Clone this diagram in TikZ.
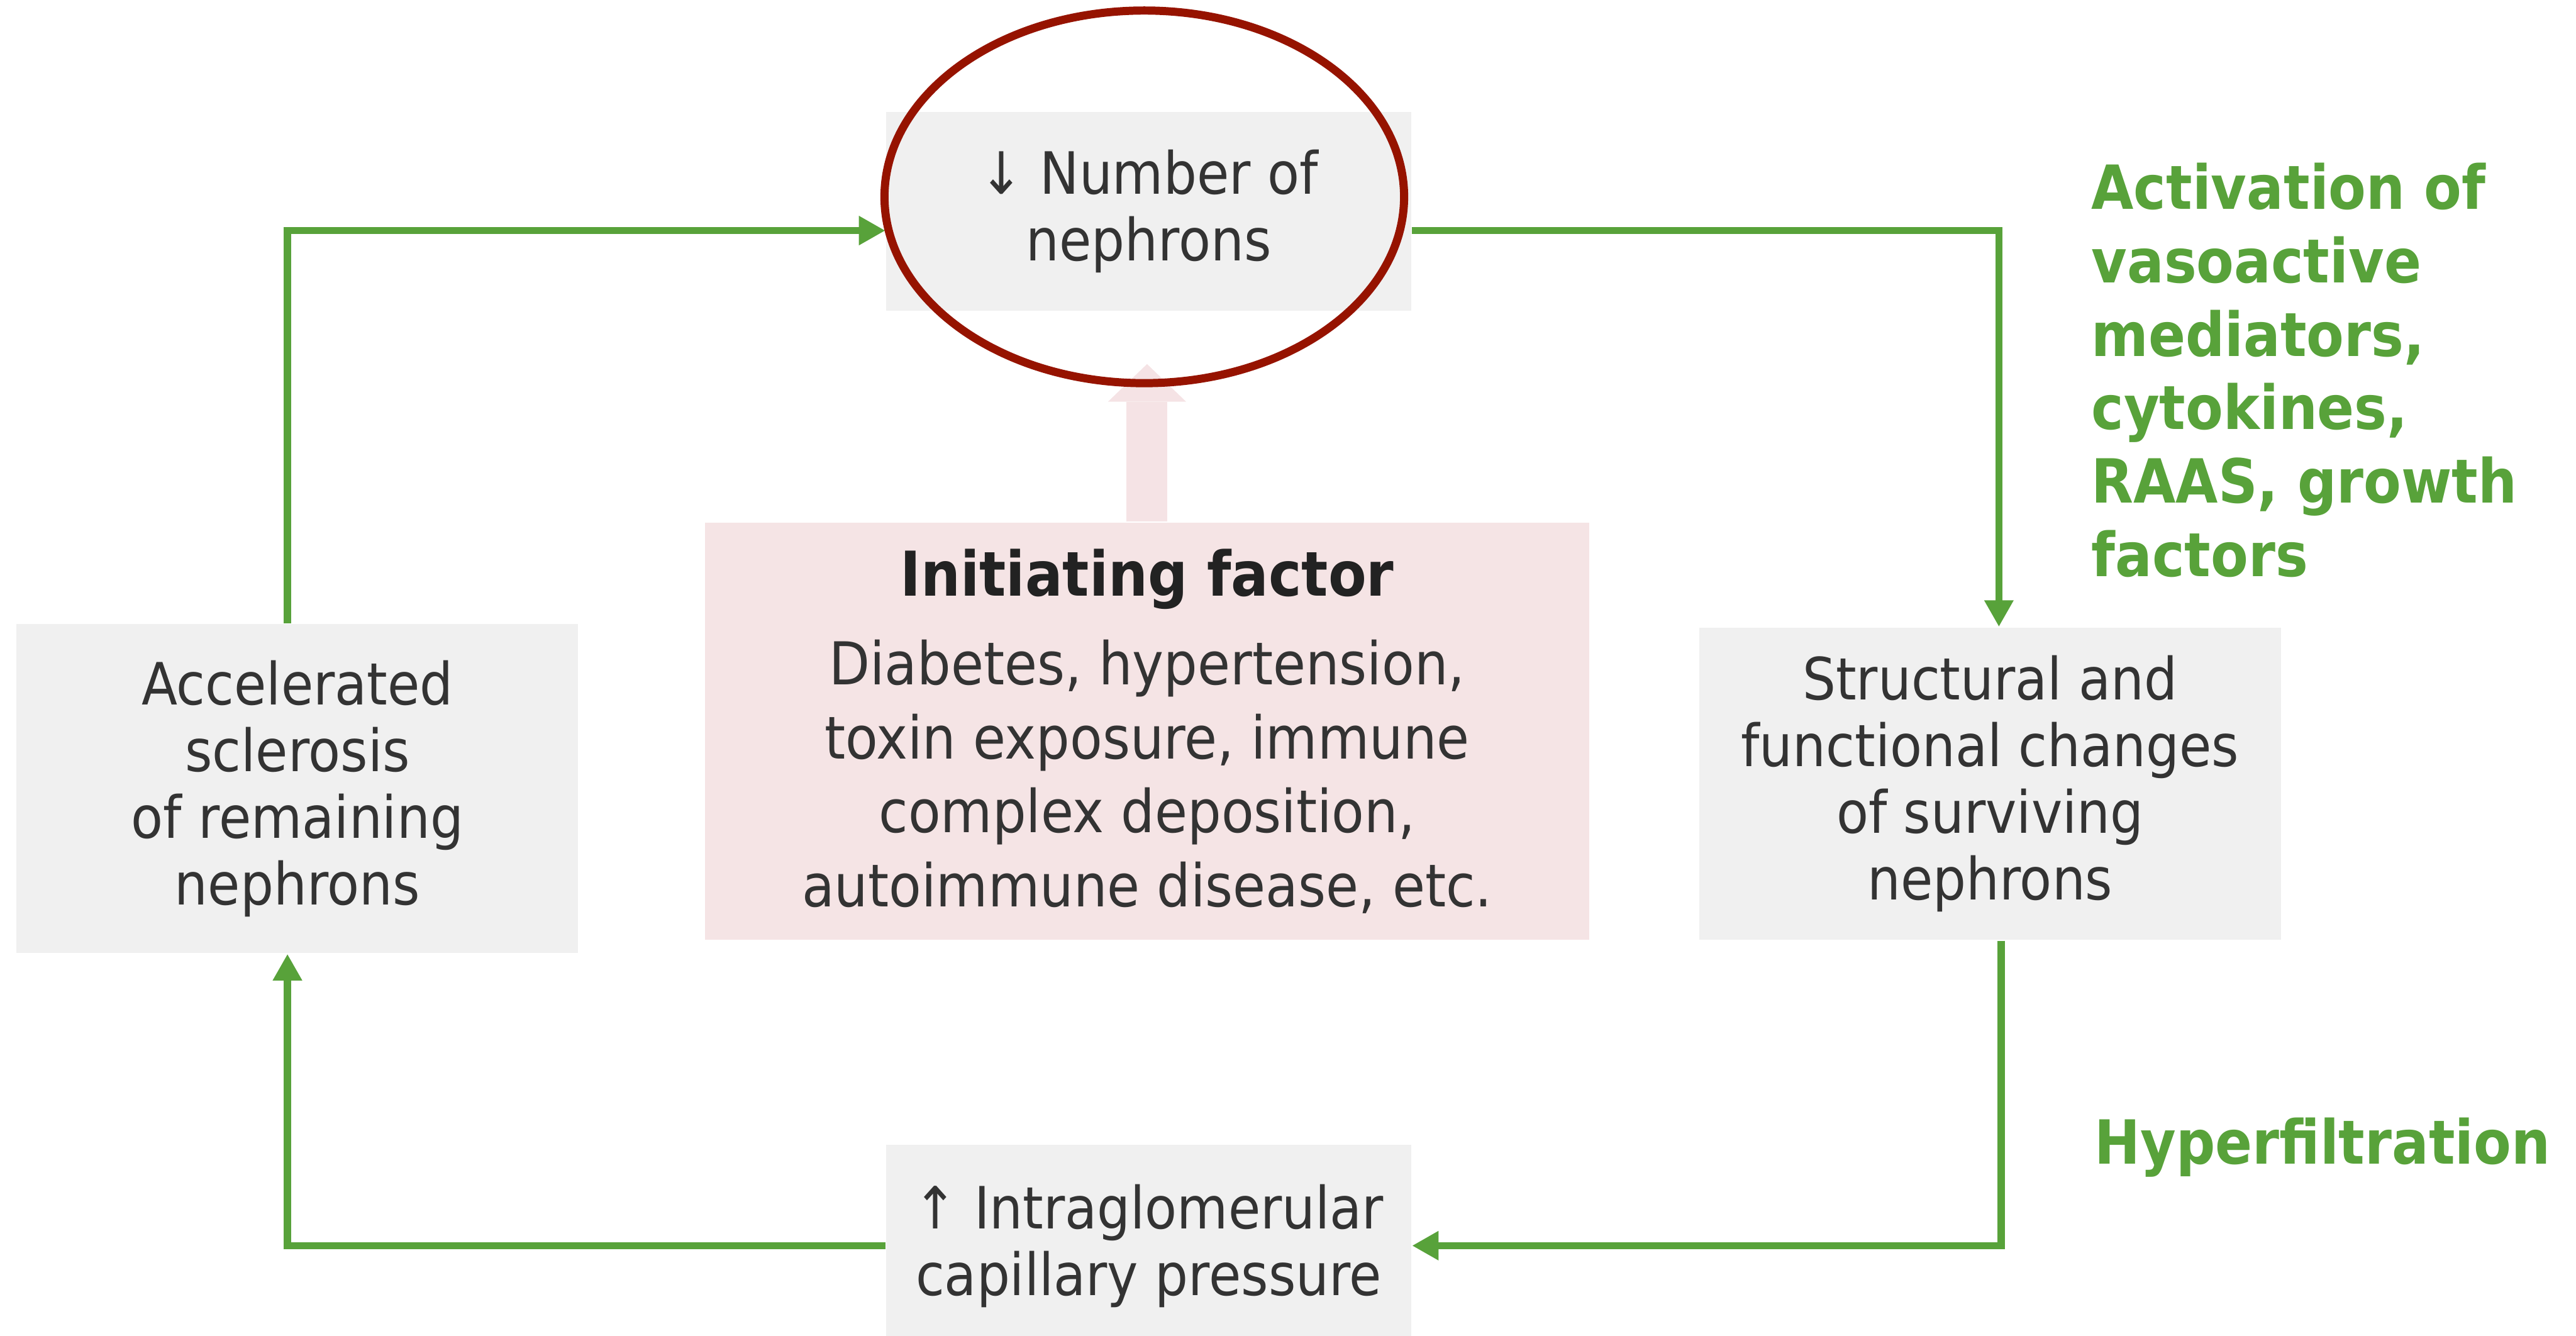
\documentclass[tikz,border=0pt]{standalone}
\usepackage{fontspec}
\setmainfont{DejaVu Sans}[FakeStretch=0.9]
\usetikzlibrary{arrows.meta,shapes.geometric}
\definecolor{LoopGreen}{HTML}{58A23A}
\definecolor{BoxGray}{HTML}{F0F0F0}
\definecolor{FactorPink}{HTML}{F5E4E5}
\definecolor{ArrowPink}{HTML}{F5E3E5}
\definecolor{RingRed}{HTML}{961300}
\definecolor{TextGray}{HTML}{333333}
\definecolor{TitleGray}{HTML}{222222}
\tikzset{
  stagebox/.style={fill=BoxGray,text=TextGray,inner sep=0pt,align=center,
    font=\fontsize{15}{17.2}\selectfont},
  factorbox/.style={fill=FactorPink,text=TextGray,inner sep=0pt,align=center,
    minimum width=8cm,minimum height=3.775cm,font=\fontsize{15.2}{19.06}\selectfont},
  loopline/.style={-{Triangle[length=2.4mm,width=2.5mm]},
    line width=1.85pt,draw=LoopGreen},
  riseline/.style={-{Triangle[length=3.4mm,width=7.05mm,line width=0pt]},
    line width=10.5pt,draw=ArrowPink},
  ringmark/.style={draw=RingRed,line width=2.1pt,ellipse,inner sep=0pt},
  notegreen/.style={text=LoopGreen,inner sep=0pt,align=left,
    font=\fontsize{15.65}{18.9}\selectfont\bfseries},
}

\begin{document}
\begin{tikzpicture}
  \useasboundingbox (0,0) rectangle (23.3,-12.08);

  % the four stages of the loop
  \node[stagebox,minimum width=4.75cm,minimum height=1.795cm] (nephrons) at (10.39,-1.9125) {↓ Number of\\nephrons};
  \node[stagebox,minimum width=5.265cm,minimum height=2.825cm] (changes) at (18.0,-7.0875) {Structural and\\functional changes\\of surviving\\nephrons};
  \node[stagebox,minimum width=4.75cm,minimum height=1.83cm] (pressure) at (10.39,-11.27) {↑ Intraglomerular\\capillary pressure};
  \node[stagebox,minimum width=5.08cm,minimum height=2.975cm] (sclerosis) at (2.69,-7.1325) {Accelerated\\sclerosis\\of remaining\\nephrons};

  % initiating factor in the middle
  \node[factorbox] (factor) at (10.375,-6.6125) {{\fontsize{15.9}{19}\selectfont\bfseries\color{TitleGray}Initiating factor}\\[3.8pt]Diabetes, hypertension,\\toxin exposure, immune\\complex deposition,\\autoimmune disease, etc.};

  % corners of the loop
  \coordinate (tl) at (2.6,-2.085);
  \coordinate (tr) at (18.08,-2.085);
  \coordinate (br) at (18.1,-11.265);
  \coordinate (bl) at (2.6,-11.265);

  \draw[loopline] (sclerosis.north -| tl) -- (tl) -- (nephrons.west |- tl);
  \draw[loopline] (nephrons.east |- tr) -- (tr) -- (changes.north -| tr);
  \draw[loopline] (changes.south -| br) -- (br) -- (pressure.east |- br);
  \draw[loopline] (pressure.west |- bl) -- (bl) -- (sclerosis.south -| bl);

  \draw[riseline,shorten >=4.75mm] (factor.north) -- (factor.north |- nephrons.south);

  \node[ringmark,minimum width=4.7cm,minimum height=3.37cm] (ring) at (10.35,-1.78) {};

  % labels on the right
  \node[notegreen,anchor=north west] (mediators) at (18.91,-1.467) {Activation of\\vasoactive\\mediators,\\cytokines,\\RAAS, growth\\factors};
  \node[notegreen,anchor=base west] (hyperfilt) at (18.94,-10.525) {Hyperfiltration};
\end{tikzpicture}
\end{document}
